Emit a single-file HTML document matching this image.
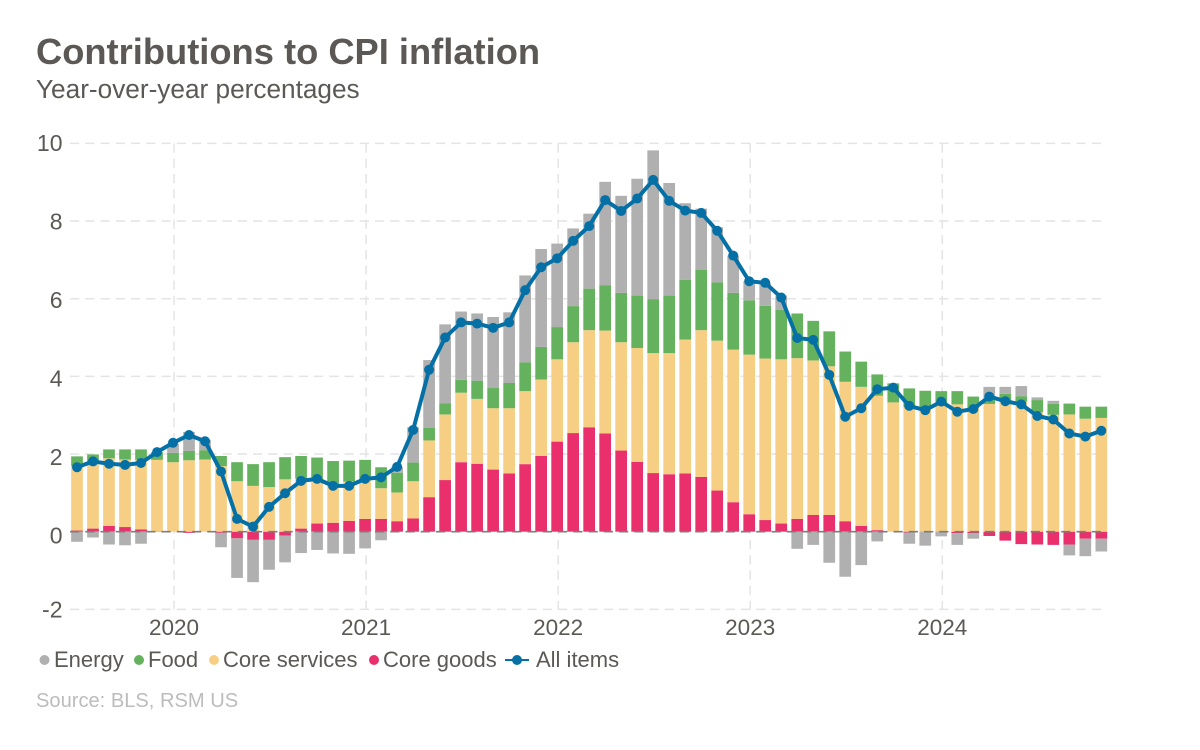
<!DOCTYPE html>
<html lang="en">
<head>
<meta charset="utf-8">
<title>Contributions to CPI inflation</title>
<style>
  html, body { margin: 0; padding: 0; background: #ffffff; }
  svg { display: block; font-family: "Liberation Sans", Arial, sans-serif; }
</style>
</head>
<body>
<svg id="chart" width="1200" height="750" viewBox="0 0 1200 750" xmlns="http://www.w3.org/2000/svg">
  <rect x="0" y="0" width="1200" height="750" fill="#ffffff"/>
  <text x="36" y="64" font-size="36.3" font-weight="700" fill="#5b5856">Contributions to CPI inflation</text>
  <text x="36" y="98" font-size="26.2" fill="#5b5856">Year-over-year percentages</text>
  <g id="grid"></g>
  <g id="bars"></g>
  <g id="zero"></g>
  <g id="line"></g>
  <g id="axes"></g>
  <g font-size="22" fill="#5b5856">
    <g>
      <circle cx="44.5" cy="660" r="5" fill="#b0b0b0"/>
      <text x="54" y="667">Energy</text>
    </g>
    <g>
      <circle cx="139" cy="660" r="5" fill="#65b25e"/>
      <text x="148" y="667">Food</text>
    </g>
    <g>
      <circle cx="214" cy="660" r="5" fill="#f6cf85"/>
      <text x="223" y="667">Core services</text>
    </g>
    <g>
      <circle cx="374" cy="660" r="5" fill="#e9306c"/>
      <text x="383" y="667">Core goods</text>
    </g>
    <g>
      <line x1="505" y1="660" x2="529" y2="660" stroke="#0570a6" stroke-width="2"/>
      <circle cx="517" cy="660" r="5" fill="#0570a6"/>
      <text x="536" y="667">All items</text>
    </g>
  </g>
  <text x="36" y="707" font-size="20.1" fill="#bcbcbc">Source: BLS, RSM US</text>
</svg>
<script>
const categories = ['2019-07','2019-08','2019-09','2019-10','2019-11','2019-12',
  '2020-01','2020-02','2020-03','2020-04','2020-05','2020-06','2020-07','2020-08','2020-09','2020-10','2020-11','2020-12',
  '2021-01','2021-02','2021-03','2021-04','2021-05','2021-06','2021-07','2021-08','2021-09','2021-10','2021-11','2021-12',
  '2022-01','2022-02','2022-03','2022-04','2022-05','2022-06','2022-07','2022-08','2022-09','2022-10','2022-11','2022-12',
  '2023-01','2023-02','2023-03','2023-04','2023-05','2023-06','2023-07','2023-08','2023-09','2023-10','2023-11','2023-12',
  '2024-01','2024-02','2024-03','2024-04','2024-05','2024-06','2024-07','2024-08','2024-09','2024-10','2024-11'];
const coreGoods = [.03,.08,.15,.12,.06,.01,0,-.03,0,-.03,-.17,-.21,-.21,-.10,.08,.21,.23,.28,.33,.33,.27,.34,
  .89,1.33,1.79,1.75,1.60,1.50,1.74,1.95,2.32,2.54,2.69,2.53,2.09,1.80,1.51,1.48,1.50,1.41,1.06,.76,.45,
  .30,.21,.33,.43,.43,.27,.15,.04,0,-.02,-.01,.01,-.04,-.04,-.11,-.23,-.32,-.33,-.34,-.33,-.18,-.18];
const coreServices = [1.66,1.68,1.74,1.74,1.79,1.84,1.79,1.84,1.86,1.69,1.30,1.18,1.15,1.35,1.29,1.12,1.00,1.01,1.00,.79,.74,.96,
  1.46,1.69,1.79,1.67,1.58,1.68,1.88,1.97,2.12,2.34,2.50,2.65,2.79,2.93,3.09,3.12,3.45,3.78,3.86,3.93,4.11,
  4.16,4.23,4.14,3.98,3.83,3.59,3.58,3.46,3.33,3.22,3.20,3.25,3.28,3.18,3.29,3.35,3.35,3.08,3.01,3.02,2.91,2.93];
const food = [.25,.23,.23,.26,.27,.20,.24,.24,.24,.26,.49,.56,.64,.57,.58,.58,.59,.54,.52,.54,.51,.48,
  .33,.29,.33,.47,.52,.65,.74,.84,.83,.93,1.07,1.17,1.27,1.35,1.39,1.48,1.54,1.55,1.50,1.46,1.40,
  1.36,1.27,1.15,1.02,.90,.78,.65,.55,.49,.47,.43,.36,.34,.30,.10,.20,.14,.31,.28,.28,.31,.29];
const energy = [-.26,-.15,-.33,-.35,-.31,0,.23,.49,.26,-.37,-1.02,-1.09,-.77,-.69,-.55,-.47,-.56,-.57,-.43,-.22,.15,.91,
  1.74,2.03,1.76,1.73,1.83,1.82,2.24,2.52,2.15,2.00,1.93,2.66,2.50,3.01,3.83,2.90,1.97,1.58,1.42,.96,.49,
  .58,.37,-.44,-.34,-.80,-1.16,-.86,-.25,0,-.29,-.35,-.12,-.30,-.14,.34,.18,.26,.07,.08,-.28,-.45,-.33];
const allItems = [1.66,1.81,1.75,1.72,1.77,2.05,2.29,2.49,2.33,1.55,.33,.13,.64,.99,1.31,1.36,1.18,1.18,1.36,1.40,1.67,2.62,
  4.17,5.00,5.39,5.36,5.25,5.39,6.22,6.81,7.04,7.49,7.87,8.54,8.26,8.58,9.06,8.52,8.27,8.21,7.75,7.11,6.45,
  6.41,6.03,4.99,4.94,4.04,2.96,3.18,3.67,3.71,3.24,3.13,3.35,3.09,3.16,3.48,3.36,3.28,2.98,2.89,2.53,2.45,2.60];
const yTickValues = [-2,0,2,4,6,8,10];
const yTickLabels = ['-2','0','2','4','6','8','10'];
const xTickMonths = ['2020-01','2021-01','2022-01','2023-01','2024-01'];
const xTickLabels = ['2020','2021','2022','2023','2024'];

const NS = 'http://www.w3.org/2000/svg';
const COLORS = { energy: '#b0b0b0', food: '#65b25e', services: '#f6cf85', goods: '#e9306c', line: '#0570a6' };
const xScale = function (i) { return 77 + 16.005 * i; };
const yScale = function (v) { return 531.7 - 38.83 * v; };
const yLabelPos = function (v) { return yScale(v) + (v >= 0 ? (10 - v) * 0.44 - 0.8 : 0) + 8.2; };
const plotLeft = 70, plotRight = 1101, barWidth = 11.7, tickNudge = 1;
const DASH = '9.2 6.05';

function make(parent, tag, attrs, text) {
  const node = document.createElementNS(NS, tag);
  for (const k in attrs) node.setAttribute(k, attrs[k]);
  if (text !== undefined) node.textContent = text;
  parent.appendChild(node);
  return node;
}

const grid = document.getElementById('grid');
const barsG = document.getElementById('bars');
const zeroG = document.getElementById('zero');
const lineG = document.getElementById('line');
const axes = document.getElementById('axes');

yTickValues.forEach(function (v, i) {
  const gl = make(grid, 'line', { x1: plotLeft, x2: plotRight, y1: yScale(v), y2: yScale(v), stroke: '#e4e4e4', 'stroke-width': 1.5, 'stroke-dasharray': DASH });
  
  
  const lb = make(axes, 'text', { x: 62.5, y: yLabelPos(v), 'text-anchor': 'end', 'font-size': 23, fill: '#5b5856' }, yTickLabels[i]);
  
  
});

xTickMonths.forEach(function (m, i) {
  const px = xScale(categories.indexOf(m)) + tickNudge;
  const gl = make(grid, 'line', { x1: px, x2: px, y1: yScale(10), y2: yScale(-2), stroke: '#e4e4e4', 'stroke-width': 1.5, 'stroke-dasharray': DASH });
  
  
  const lb = make(axes, 'text', { x: px, y: 635, 'text-anchor': 'middle', 'font-size': 22.5, fill: '#5b5856' }, xTickLabels[i]);
  
  
});

categories.forEach(function (c, i) {
  let pos = 0, neg = 0;
  const parts = [
    ['goods', coreGoods[i]],
    ['services', coreServices[i]],
    ['food', food[i]],
    ['energy', energy[i]]
  ];
  parts.forEach(function (p) {
    const v = p[1];
    if (!v) return;
    let top, bottom;
    if (v > 0) { top = pos + v; bottom = pos; pos = top; }
    else { top = neg; bottom = neg + v; neg = bottom; }
    const r = make(barsG, 'rect', {
      x: xScale(i) - barWidth / 2,
      y: yScale(top),
      width: barWidth,
      height: yScale(bottom) - yScale(top),
      fill: COLORS[p[0]]
    });
    
    
  });
});

const zeroLine = make(zeroG, 'line', { x1: plotLeft, x2: plotRight, y1: yScale(0), y2: yScale(0), stroke: '#7d7d7d', 'stroke-width': 1.6, 'stroke-dasharray': DASH });



const linePath = make(lineG, 'polyline', {
  points: allItems.map(function (v, i) { return xScale(i) + ',' + yScale(v); }).join(' '),
  fill: 'none', stroke: COLORS.line, 'stroke-width': 4, 'stroke-linejoin': 'round'
});



allItems.forEach(function (v, i) {
  const pt = make(lineG, 'circle', { cx: xScale(i), cy: yScale(v), r: 5, fill: COLORS.line });
  
  
});
</script>
</body>
</html>
